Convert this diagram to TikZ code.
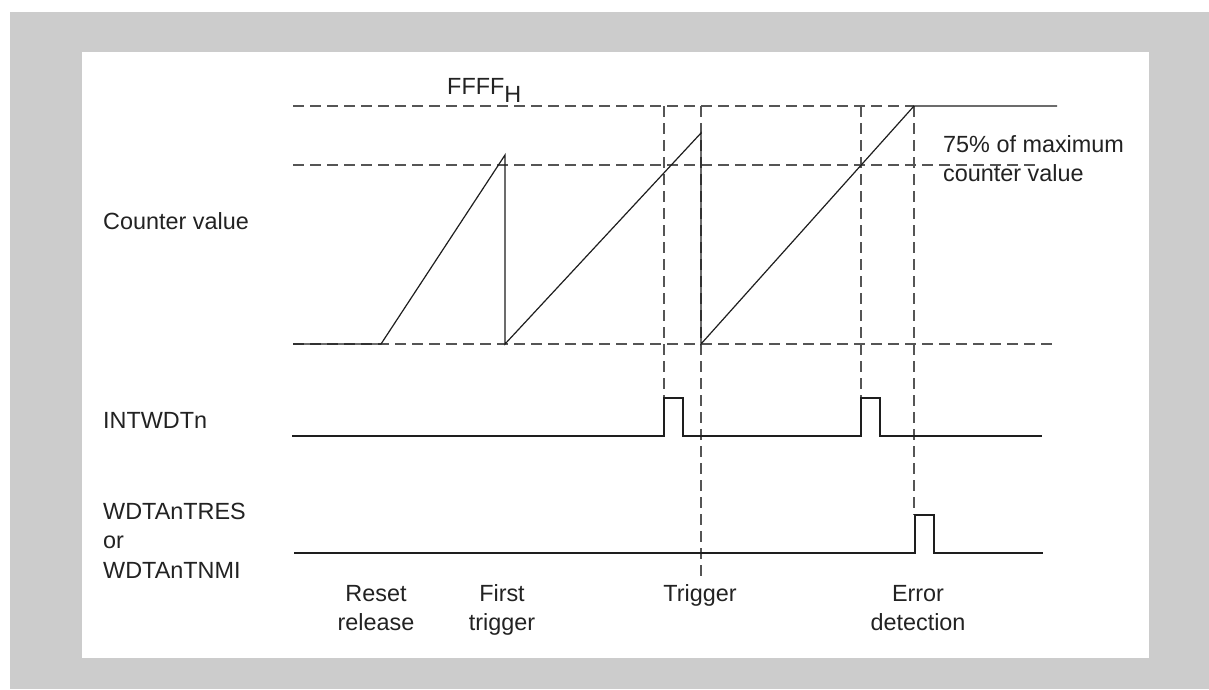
\documentclass[tikz,border=0pt]{standalone}
\usepackage{fontspec}
\setmainfont{Liberation Sans}
\definecolor{bggray}{HTML}{CCCCCC}
\definecolor{ink}{HTML}{1E1E1E}
\definecolor{guidecol}{HTML}{555555}
\definecolor{txt}{HTML}{222222}
\begin{document}
\begin{tikzpicture}[x=1pt,y=-1pt,
  lbl/.style={inner sep=0pt, font=\fontsize{23.4}{29}\selectfont, text=txt},
  wave/.style={draw=ink, line width=1.2pt, line join=miter},
  guide/.style={draw=guidecol, line width=1.1pt, dash pattern=on 11pt off 6pt}]
% frame
\useasboundingbox (0,0) rectangle (1209,689);
\fill[white] (0,0) rectangle (1209,689);
\fill[bggray] (10,12) rectangle (1209,689);
\fill[white] (82,52) rectangle (1149,658);

% key coordinates of the counter waveform
\coordinate (c0) at (293,344);
\coordinate (c1) at (381,344);
\coordinate (c2) at (505,155);
\coordinate (c3) at (505,344);
\coordinate (c4) at (701,133);
\coordinate (c5) at (701,344);
\coordinate (c6) at (914,106);
\coordinate (c7) at (1057,106);

% guide lines (horizontal)
\coordinate (gTopL) at (293,106);
\coordinate (g75L) at (293,165);
\coordinate (g75R) at (1040,165);
\coordinate (gBotR) at (1055,344);
\draw[guide] (gTopL) -- (c6);
\draw[guide] (g75L) -- (g75R);
\draw[guide] (c0) -- (gBotR);

% guide lines (vertical)
\coordinate (v1t) at (664,106);
\coordinate (v1b) at (664,398);
\coordinate (v2t) at (701,106);
\coordinate (v2b) at (701,578);
\coordinate (v3t) at (861,106);
\coordinate (v3b) at (861,398);
\coordinate (v4b) at (914,515);
\draw[guide] (v1t) -- (v1b);
\draw[guide] (v2t) -- (v2b);
\draw[guide] (v3t) -- (v3b);
\draw[guide] (c6) -- (v4b);

% counter value waveform
\draw[wave] (c0) -- (c1) -- (c2) -- (c3) -- (c4) -- (c5) -- (c6) -- (c7);

% INTWDTn
\coordinate (i0) at (292,436);
\coordinate (i1) at (664,398);
\coordinate (i2) at (683,436);
\coordinate (i3) at (861,398);
\coordinate (i4) at (880,436);
\coordinate (i5) at (1042,436);
\draw[wave] (i0) -| (i1) -| (i2) -| (i3) -| (i4) -- (i5);

% WDTAnTRES / WDTAnTNMI
\coordinate (w0) at (294,553);
\coordinate (w1) at (915,515);
\coordinate (w2) at (934,553);
\coordinate (w3) at (1043,553);
\draw[wave] (w0) -| (w1) -| (w2) -- (w3);

% labels
\node[lbl, anchor=base west] (lcv) at (103,229) {Counter value};
\node[lbl, anchor=base west] (lint) at (103,428) {INTWDTn};
\node[lbl, anchor=base west] (lw1) at (103,519) {WDTAnTRES};
\node[lbl, anchor=base west] (lw2) at (103,548) {or};
\node[lbl, anchor=base west] (lw3) at (103,578) {WDTAnTNMI};
\node[lbl, anchor=base west] (lff) at (447,94) {FFFF\raisebox{-8pt}{H}};
\node[lbl, anchor=base west] (l75a) at (943,152) {75\% of maximum};
\node[lbl, anchor=base west] (l75b) at (943,181) {counter value};
\node[lbl, anchor=base] (lr1) at (376,601) {Reset};
\node[lbl, anchor=base] (lr2) at (376,630) {release};
\node[lbl, anchor=base] (lf1) at (502,601) {First};
\node[lbl, anchor=base] (lf2) at (502,630) {trigger};
\node[lbl, anchor=base] (lt1) at (700,601) {Trigger};
\node[lbl, anchor=base] (le1) at (918,601) {Error};
\node[lbl, anchor=base] (le2) at (918,630) {detection};
\end{tikzpicture}
\end{document}
